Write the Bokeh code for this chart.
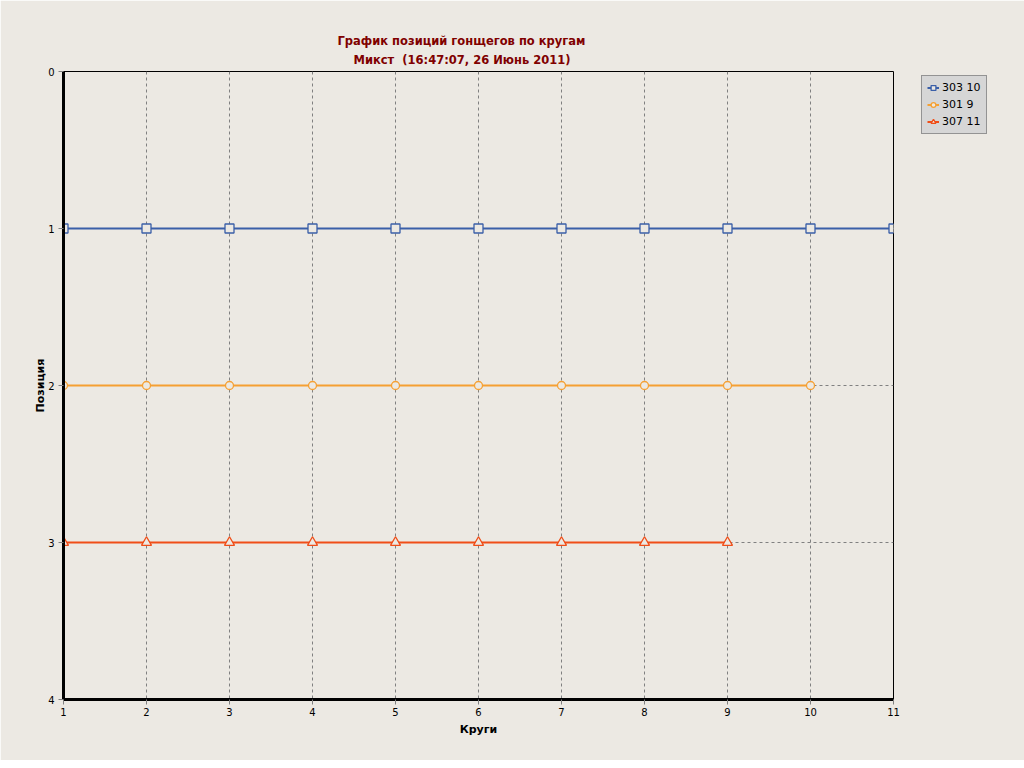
from bokeh.plotting import figure
from bokeh.models import Range1d, FixedTicker, Legend, LegendItem, Title
from bokeh.embed import file_html
from bokeh.resources import INLINE

# ---- data ----
laps_303 = [1, 2, 3, 4, 5, 6, 7, 8, 9, 10, 11]
pos_303 = [1, 1, 1, 1, 1, 1, 1, 1, 1, 1, 1]
laps_301 = [1, 2, 3, 4, 5, 6, 7, 8, 9, 10]
pos_301 = [2, 2, 2, 2, 2, 2, 2, 2, 2, 2]
laps_307 = [1, 2, 3, 4, 5, 6, 7, 8, 9]
pos_307 = [3, 3, 3, 3, 3, 3, 3, 3, 3]
series_names = ["303 10", "301 9", "307 11"]
x_ticks = [1, 2, 3, 4, 5, 6, 7, 8, 9, 10, 11]
y_ticks = [0, 1, 2, 3, 4]
title_lines = ["График позиций гонщегов по кругам", "Микст \u00a0(16:47:07, 26 Июнь 2011)"]
x_label = "Круги"
y_label = "Позиция"

BG = "#ECE9E3"
FONT = "DejaVu Sans"

p = figure(output_backend="svg", toolbar_location=None,
           frame_width=830, frame_height=628,
           min_border_left=63, min_border_right=123,
           min_border_top=71, min_border_bottom=61,
           x_range=Range1d(1, 11), y_range=Range1d(4, 0),
           background_fill_color=BG, border_fill_color=BG)

# title: p.title is the outer line, the added Title sits next to the frame
p.title.text = title_lines[0]
p.title.align = "left"
p.title.offset = 274
p.title.standoff = 0
p.title.text_font = FONT
p.title.text_font_size = "11.5px"
p.title.text_font_style = "bold"
p.title.text_color = "#800000"
p.add_layout(Title(text=title_lines[1], align="left", offset=290, standoff=8,
                   vertical_align="middle",
                   text_font=FONT, text_font_size="11.5px", text_font_style="bold",
                   text_color="#800000"), "above")

p.outline_line_color = "black"
p.outline_line_width = 1

for ax in (p.xaxis[0], p.yaxis[0]):
    ax.axis_line_color = "black"
    ax.axis_line_width = 3
    ax.major_tick_line_color = "#808080"
    ax.major_tick_out = 5
    ax.major_tick_in = 0
    ax.minor_tick_line_color = None
    ax.major_label_text_font = FONT
    ax.major_label_text_font_size = "10px"
    ax.major_label_text_color = "black"
    ax.axis_label_text_font = FONT
    ax.axis_label_text_font_size = "11px"
    ax.axis_label_text_font_style = "bold"
    ax.axis_label_text_color = "black"

p.xaxis[0].ticker = FixedTicker(ticks=x_ticks)
p.yaxis[0].ticker = FixedTicker(ticks=y_ticks)
p.xaxis[0].axis_label = x_label
p.yaxis[0].axis_label = y_label
p.xaxis[0].major_label_standoff = 3
p.xaxis[0].axis_label_standoff = 4
p.yaxis[0].major_label_standoff = 4
p.yaxis[0].axis_label_standoff = -2

for g in (p.xgrid[0], p.ygrid[0]):
    g.grid_line_color = "#808080"
    g.grid_line_dash = "3 3"
    g.grid_line_width = 1

colors = ["#3A5FA8", "#F5A033", "#F04E18"]
markers = ["square", "circle", "triangle"]
sizes = [9, 8, 10]
data = [(laps_303, pos_303), (laps_301, pos_301), (laps_307, pos_307)]

items = []
for (xs, ys), name, c, m, s in zip(data, series_names, colors, markers, sizes):
    r1 = p.line(xs, ys, line_color=c, line_width=2)
    r2 = p.scatter(xs, ys, marker=m, size=s, line_color=c, line_width=1.3, fill_color=BG)
    items.append(LegendItem(label=name, renderers=[r1, r2]))

legend = Legend(items=items, location=(28, 565),
                background_fill_color="#D6D6D6", background_fill_alpha=1.0,
                border_line_color="#505050", border_line_width=1,
                label_text_font=FONT, label_text_font_size="11px",
                label_text_color="black",
                glyph_width=12, glyph_height=13, label_height=13,
                spacing=4, padding=5, margin=0, label_standoff=3)
p.add_layout(legend, "right")

open("out.html", "w").write(file_html(p, INLINE))
